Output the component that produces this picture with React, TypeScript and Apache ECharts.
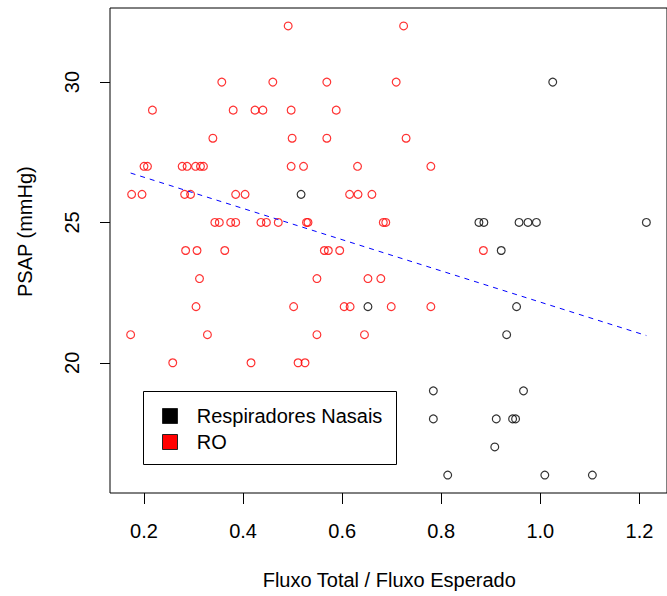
import React, { useEffect, useRef } from "react";
import * as echarts from "echarts";

// Tick marks on each axis
const xTicks = [0.2, 0.4, 0.6, 0.8, 1.0, 1.2];
const yTicks = [20, 25, 30];

// RO group: flow ratio and PSAP
const roFlow = [
  0.491, 0.724,
  0.357, 0.46, 0.569, 0.709,
  0.217, 0.38, 0.424, 0.44, 0.497, 0.588,
  0.339, 0.499, 0.569, 0.729,
  0.2, 0.207, 0.277, 0.287, 0.304, 0.314, 0.32, 0.497, 0.522, 0.631, 0.779,
  0.175, 0.196, 0.282, 0.294, 0.385, 0.404, 0.615, 0.632, 0.66,
  0.343, 0.352, 0.375, 0.385, 0.436, 0.447, 0.471, 0.528, 0.531, 0.683, 0.688,
  0.284, 0.307, 0.363, 0.564, 0.572, 0.595, 0.885,
  0.312, 0.549, 0.652, 0.678,
  0.305, 0.502, 0.604, 0.616, 0.699, 0.779,
  0.173, 0.328, 0.549, 0.645,
  0.258, 0.416, 0.511, 0.525,
];
const roPsap = [
  32, 32,
  30, 30, 30, 30,
  29, 29, 29, 29, 29, 29,
  28, 28, 28, 28,
  27, 27, 27, 27, 27, 27, 27, 27, 27, 27, 27,
  26, 26, 26, 26, 26, 26, 26, 26, 26,
  25, 25, 25, 25, 25, 25, 25, 25, 25, 25, 25,
  24, 24, 24, 24, 24, 24, 24,
  23, 23, 23, 23,
  22, 22, 22, 22, 22, 22,
  21, 21, 21, 21,
  20, 20, 20, 20,
];

// Nasal respirator group
const nasalFlow = [
  1.025, 0.517, 0.876, 0.886, 0.957, 0.975, 0.992, 1.214, 0.921, 0.652, 0.952,
  0.932, 0.784, 0.966, 0.784, 0.911, 0.944, 0.95, 0.908, 0.813, 1.009, 1.105,
];
const nasalPsap = [
  30, 26, 25, 25, 25, 25, 25, 25, 24, 22, 22,
  21, 19, 19, 18, 18, 18, 18, 17, 16, 16, 16,
];

// Fitted trend over all subjects
const trendFlow = [0.173, 1.214];
const trendPsap = [26.76, 20.97];

const seriesNames = ["Respiradores Nasais", "RO"];
const seriesColors = ["#000000", "#ff0000"];

const FONT = "'Liberation Sans', Arial, sans-serif";
const FS = 20;

function zip(xs: number[], ys: number[]) {
  return xs.map((x, i) => [x, ys[i]]);
}

// R-style axis range: data extent widened by 4% on each side
function padded(values: number[]) {
  const lo = Math.min(...values);
  const hi = Math.max(...values);
  const pad = (hi - lo) * 0.04;
  return [lo - pad, hi + pad];
}

export default function App() {
  const ref = useRef<HTMLDivElement>(null);

  useEffect(() => {
    if (!ref.current) return;
    const chart = echarts.init(ref.current, undefined, { renderer: "svg" });
    const [xMin, xMax] = padded([...roFlow, ...nasalFlow]);
    const [yMin, yMax] = padded([...roPsap, ...nasalPsap]);

    const scatterStyle = (color: string) => ({
      type: "scatter" as const,
      symbol: "circle",
      symbolSize: 7.8,
      itemStyle: { color: "transparent", borderColor: color, borderWidth: 1.2 },
      emphasis: { disabled: true },
    });

    chart.setOption({
      animation: false,
      backgroundColor: "#ffffff",
      grid: {
        show: true,
        left: 110,
        top: 8,
        width: 560,
        height: 485,
        borderColor: "#000",
        borderWidth: 1,
        backgroundColor: "transparent",
      },
      xAxis: {
        type: "value",
        min: xMin,
        max: xMax,
        axisLine: { show: false },
        splitLine: { show: false },
        axisTick: {
          show: true,
          customValues: xTicks,
          length: 11,
          lineStyle: { color: "#000", width: 1 },
        },
        axisLabel: {
          customValues: xTicks,
          formatter: (v: number) => v.toFixed(1),
          margin: 28,
          fontSize: FS,
          fontFamily: FONT,
          color: "#000",
        },
      },
      yAxis: {
        type: "value",
        min: yMin,
        max: yMax,
        axisLine: { show: false },
        splitLine: { show: false },
        axisTick: {
          show: true,
          customValues: yTicks,
          length: 10,
          lineStyle: { color: "#000", width: 1 },
        },
        axisLabel: {
          customValues: yTicks,
          formatter: (v: number) => String(v),
          rotate: 90,
          margin: 28,
          fontSize: FS,
          fontFamily: FONT,
          color: "#000",
        },
      },
      series: [
        { name: seriesNames[0], data: zip(nasalFlow, nasalPsap), ...scatterStyle(seriesColors[0]) },
        { name: seriesNames[1], data: zip(roFlow, roPsap), ...scatterStyle(seriesColors[1]) },
        {
          type: "line",
          data: zip(trendFlow, trendPsap),
          symbol: "none",
          lineStyle: { color: "#0000ff", width: 1, type: [5, 5] },
          emphasis: { disabled: true },
        },
      ],
      graphic: [
        {
          type: "text",
          x: 262.7,
          y: 580,
          style: {
            text: "Fluxo Total / Fluxo Esperado",
            fontSize: FS,
            fontFamily: FONT,
            fill: "#000",
            textAlign: "left",
            textVerticalAlign: "middle",
          },
        },
        {
          type: "text",
          x: 25,
          y: 297,
          rotation: Math.PI / 2,
          style: {
            text: "PSAP (mmHg)",
            fontSize: FS,
            fontFamily: FONT,
            fill: "#000",
            textAlign: "left",
            textVerticalAlign: "middle",
          },
        },
        {
          type: "group",
          z: 100,
          children: [
            {
              type: "rect",
              shape: { x: 143.5, y: 391.5, width: 253, height: 73 },
              style: { fill: "#fff", stroke: "#000", lineWidth: 1 },
            },
            ...seriesNames.map((name, i) => ({
              type: "rect",
              shape: { x: 162.5, y: 408.5 + i * 26, width: 15, height: 15 },
              style: { fill: seriesColors[i], stroke: "#222", lineWidth: 1 },
            })),
            ...seriesNames.map((name, i) => ({
              type: "text",
              x: 196.7,
              y: 416.3 + i * 26,
              style: {
                text: name,
                fontSize: FS,
                fontFamily: FONT,
                fill: "#000",
                textAlign: "left",
                textVerticalAlign: "middle",
              },
            })),
          ],
        },
      ],
    });

    return () => chart.dispose();
  }, []);

  return (
    <div
      ref={ref}
      style={{ position: "fixed", left: 0, top: 0, width: 667, height: 596, background: "#fff" }}
    />
  );
}
